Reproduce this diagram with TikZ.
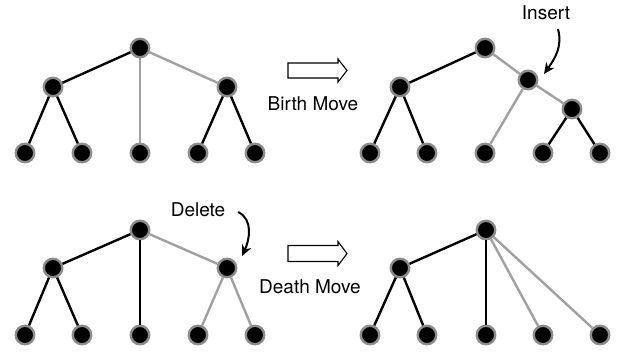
\documentclass[tikz,border=0pt]{standalone}
\usepackage{fontspec}
\setmainfont{TeX Gyre Heros}
\usetikzlibrary{arrows.meta}
\definecolor{rimgray}{HTML}{8C8C8C}
\definecolor{edgegray}{HTML}{A0A0A0}
\tikzset{
  vtx/.style={circle, fill=black, draw=rimgray, line width=2.4bp, minimum size=18.5bp, inner sep=0pt},
  blk/.style={draw=black, line width=2.4bp},
  gry/.style={draw=edgegray, line width=2.4bp},
  lbl/.style={font=\fontsize{19bp}{22bp}\selectfont, inner sep=0pt},
  pointer/.style={line width=2bp, -{Stealth[length=11bp,width=10bp]}},
  blockarrow/.style={draw=black, line width=1.1bp, fill=white, line join=miter}
}
\begin{document}
\begin{tikzpicture}[x=1bp, y=-1bp]
\useasboundingbox (0,0) rectangle (622,354);

% ---------- top left: tree before the birth move ----------
\node[vtx] (tlr) at (140,48) {};
\node[vtx] (tla) at (53,87) {};
\node[vtx] (tlb) at (227,87) {};
\node[vtx] (tl1) at (25,153) {};
\node[vtx] (tl2) at (82,153) {};
\node[vtx] (tl3) at (140,153) {};
\node[vtx] (tl4) at (198,153) {};
\node[vtx] (tl5) at (255,153) {};

% ---------- top right: tree after the birth move ----------
\node[vtx] (trr) at (485,48) {};
\node[vtx] (tra) at (400,87) {};
\node[vtx] (tri) at (528,80) {};
\node[vtx] (trc) at (572,109) {};
\node[vtx] (tr1) at (370,153) {};
\node[vtx] (tr2) at (427,153) {};
\node[vtx] (tr3) at (485,153) {};
\node[vtx] (tr4) at (543,153) {};
\node[vtx] (tr5) at (600,153) {};

% ---------- bottom left: tree before the death move ----------
\node[vtx] (blr) at (140,230) {};
\node[vtx] (bla) at (53,268) {};
\node[vtx] (blb) at (227,268) {};
\node[vtx] (bl1) at (25,335) {};
\node[vtx] (bl2) at (82,335) {};
\node[vtx] (bl3) at (140,335) {};
\node[vtx] (bl4) at (198,335) {};
\node[vtx] (bl5) at (255,335) {};

% ---------- bottom right: tree after the death move ----------
\node[vtx] (brr) at (486,230) {};
\node[vtx] (bra) at (400,268) {};
\node[vtx] (br1) at (370,335) {};
\node[vtx] (br2) at (427,335) {};
\node[vtx] (br3) at (486,335) {};
\node[vtx] (br4) at (543,335) {};
\node[vtx] (br5) at (600,335) {};

% edges (drawn between node borders)
\draw[blk] (tlr) -- (tla);
\draw[gry] (tlr) -- (tl3);
\draw[gry] (tlr) -- (tlb);
\draw[blk] (tla) -- (tl1);
\draw[blk] (tla) -- (tl2);
\draw[blk] (tlb) -- (tl4);
\draw[blk] (tlb) -- (tl5);

\draw[blk] (trr) -- (tra);
\draw[gry] (trr) -- (tri);
\draw[gry] (tri) -- (tr3);
\draw[gry] (tri) -- (trc);
\draw[blk] (tra) -- (tr1);
\draw[blk] (tra) -- (tr2);
\draw[blk] (trc) -- (tr4);
\draw[blk] (trc) -- (tr5);

\draw[blk] (blr) -- (bla);
\draw[blk] (blr) -- (bl3);
\draw[gry] (blr) -- (blb);
\draw[blk] (bla) -- (bl1);
\draw[blk] (bla) -- (bl2);
\draw[gry] (blb) -- (bl4);
\draw[gry] (blb) -- (bl5);

\draw[blk] (brr) -- (bra);
\draw[blk] (brr) -- (br3);
\draw[gry] (brr) -- (br4);
\draw[gry] (brr) -- (br5);
\draw[blk] (bra) -- (br1);
\draw[blk] (bra) -- (br2);

% ---------- move arrows and labels ----------
\draw[blockarrow] (288,63) -- (338,63) -- (338,59) -- (347,70.5) -- (338,82) -- (338,78) -- (288,78) -- cycle;
\node[lbl] (birth) at (313,104) {Birth Move};

\draw[blockarrow] (288,245.5) -- (338,245.5) -- (338,241.5) -- (347,253.5) -- (338,265.5) -- (338,261.5) -- (288,261.5) -- cycle;
\node[lbl] (death) at (310,287) {Death Move};

% ---------- annotations ----------
\node[lbl] (ins) at (546,13) {Insert};
\coordinate (insfrom) at (558,29);
\coordinate (insto) at (544,74);
\draw[pointer] (insfrom) to[out=-75, in=55] (insto);

\node[lbl] (del) at (198,210) {Delete};
\coordinate (delfrom) at (238,212);
\coordinate (delto) at (242,256);
\draw[pointer] (delfrom) to[out=-25, in=65] (delto);
\end{tikzpicture}
\end{document}
